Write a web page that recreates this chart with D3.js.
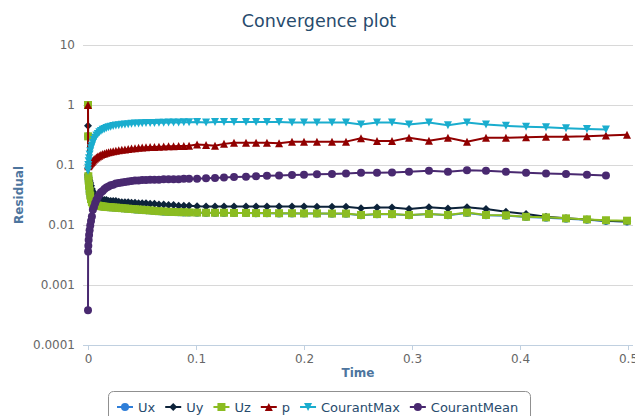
<!DOCTYPE html>
<html>
<head>
<meta charset="utf-8">
<script src="https://d3js.org/d3.v7.min.js"></script>
<style>
body { margin: 0; background: #fff; }
text { font-family: "DejaVu Sans", Verdana, sans-serif; }
</style>
</head>
<body>
<svg id="chart" width="635" height="416"></svg>
<script>

// ---- data ----
var times = [0, 0.0001, 0.0003, 0.0006, 0.001, 0.0015, 0.0021, 0.0028, 0.0036,
  0.0045, 0.0055, 0.0066, 0.0078, 0.0091, 0.0105, 0.012, 0.0136, 0.0153, 0.0171, 0.019, 0.021,
  0.0233, 0.0258, 0.0285, 0.0313, 0.0342, 0.0372, 0.0403, 0.0435, 0.0468, 0.0502, 0.0537,
  0.0575, 0.0615, 0.0657, 0.0701, 0.0746, 0.0792, 0.0839, 0.0887, 0.0936,
  0.101, 0.1093, 0.1176, 0.1259, 0.1352, 0.1463, 0.1556, 0.1657, 0.1769, 0.1889, 0.2, 0.212,
  0.2259, 0.2389, 0.2528, 0.2676, 0.2815, 0.2972, 0.3157, 0.3333, 0.3509, 0.3685, 0.387,
  0.4056, 0.4241, 0.4426, 0.462, 0.4796, 0.4991];

var Ux = [1.0, 0.3, 0.064, 0.054, 0.044, 0.036, 0.031, 0.027, 0.024,
  0.0224, 0.0219, 0.0214, 0.0212, 0.0209, 0.0207, 0.0205, 0.0203, 0.0201, 0.0199, 0.0198, 0.0197,
  0.0195, 0.0194, 0.0192, 0.019, 0.0188, 0.0186, 0.0184, 0.0182, 0.018, 0.0178, 0.0176,
  0.0174, 0.0171, 0.0169, 0.0167, 0.0165, 0.0164, 0.0163, 0.0162, 0.0161,
  0.016, 0.0159, 0.0159, 0.0159, 0.0158, 0.0158, 0.0157, 0.0157, 0.0156, 0.0156, 0.0155, 0.0155,
  0.0154, 0.0154, 0.0146, 0.0151, 0.0151, 0.0146, 0.0152, 0.0146, 0.0158, 0.0146, 0.0143,
  0.0136, 0.0132, 0.0127, 0.0122, 0.0117, 0.0114];

var Uy = [0.45, 0.07, 0.066, 0.062, 0.058, 0.054, 0.05, 0.045, 0.04,
  0.036, 0.032, 0.029, 0.028, 0.027, 0.027, 0.026, 0.026, 0.026, 0.026, 0.025, 0.025,
  0.025, 0.025, 0.0245, 0.024, 0.024, 0.024, 0.0235, 0.0235, 0.023, 0.023, 0.023,
  0.0225, 0.0225, 0.022, 0.022, 0.0215, 0.0215, 0.021, 0.021, 0.021,
  0.0205, 0.0203, 0.0203, 0.0203, 0.0204, 0.0204, 0.0203, 0.0204, 0.0204, 0.0203, 0.0203, 0.0202,
  0.0202, 0.0201, 0.019, 0.0195, 0.0195, 0.0185, 0.0197, 0.0188, 0.0197, 0.0185, 0.0166,
  0.0153, 0.0137, 0.0129, 0.0124, 0.0118, 0.0114];

var Uz = [1.0, 0.3, 0.065, 0.055, 0.045, 0.037, 0.031, 0.027, 0.024,
  0.0225, 0.022, 0.0215, 0.0213, 0.021, 0.0208, 0.0206, 0.0204, 0.0202, 0.02, 0.0199, 0.0198,
  0.0196, 0.0195, 0.0193, 0.0191, 0.0189, 0.0187, 0.0185, 0.0183, 0.0181, 0.0179, 0.0177,
  0.0175, 0.0172, 0.017, 0.0168, 0.0166, 0.0165, 0.0164, 0.0163, 0.0162,
  0.0161, 0.016, 0.016, 0.016, 0.0159, 0.0159, 0.0158, 0.0158, 0.0157, 0.0157, 0.0156, 0.0156,
  0.0155, 0.0155, 0.0147, 0.0152, 0.0152, 0.0147, 0.0153, 0.0147, 0.0161, 0.0147, 0.0145,
  0.0137, 0.0134, 0.0129, 0.0124, 0.012, 0.0118];

var p = [1.0, 0.1, 0.095, 0.097, 0.1, 0.103, 0.106, 0.109, 0.112,
  0.118, 0.123, 0.128, 0.133, 0.138, 0.143, 0.148, 0.152, 0.156, 0.16, 0.163, 0.166,
  0.17, 0.173, 0.176, 0.179, 0.182, 0.185, 0.188, 0.19, 0.193, 0.195, 0.197,
  0.2, 0.2, 0.202, 0.203, 0.205, 0.205, 0.207, 0.208, 0.21,
  0.22, 0.215, 0.21, 0.225, 0.235, 0.235, 0.235, 0.235, 0.23, 0.245, 0.245, 0.245,
  0.245, 0.245, 0.28, 0.25, 0.25, 0.285, 0.254, 0.285, 0.245, 0.285, 0.285,
  0.29, 0.296, 0.296, 0.3, 0.31, 0.32];

var CourantMax = [0.08, 0.09, 0.1, 0.115, 0.13, 0.15, 0.17, 0.19, 0.21,
  0.235, 0.26, 0.285, 0.31, 0.33, 0.35, 0.37, 0.385, 0.4, 0.415, 0.425, 0.435,
  0.445, 0.455, 0.46, 0.47, 0.475, 0.48, 0.485, 0.49, 0.49, 0.495, 0.5,
  0.5, 0.5, 0.505, 0.505, 0.51, 0.51, 0.51, 0.515, 0.515,
  0.52, 0.51, 0.52, 0.52, 0.52, 0.52, 0.52, 0.52, 0.52, 0.51, 0.51, 0.51,
  0.51, 0.51, 0.475, 0.51, 0.51, 0.475, 0.51, 0.46, 0.51, 0.475, 0.45,
  0.435, 0.425, 0.41, 0.4, 0.39];

var CourantMean = [0.00038, 0.0036, 0.0045, 0.0056, 0.0068, 0.0082, 0.0098, 0.0117, 0.0138,
  0.018, 0.02, 0.023, 0.026, 0.029, 0.032, 0.035, 0.037, 0.04, 0.042, 0.044, 0.046,
  0.047, 0.049, 0.05, 0.051, 0.052, 0.053, 0.054, 0.055, 0.055, 0.056, 0.056,
  0.057, 0.057, 0.057, 0.058, 0.058, 0.058, 0.058, 0.059, 0.059,
  0.059, 0.06, 0.061, 0.062, 0.063, 0.064, 0.065, 0.066, 0.067, 0.068, 0.069, 0.07,
  0.071, 0.072, 0.074, 0.074, 0.075, 0.077, 0.08, 0.077, 0.082, 0.08, 0.077,
  0.074, 0.072, 0.071, 0.069, 0.067];

var seriesNames = ["Ux", "Uy", "Uz", "p", "CourantMax", "CourantMean"];
var seriesValues = [Ux, Uy, Uz, p, CourantMax, CourantMean];
var colors = ["#2f7ed8", "#0d233a", "#8bbc21", "#910000", "#1aadce", "#492970"];
var symbols = ["circle", "diamond", "square", "triangle", "triangle-down", "circle"];

var xTicks = [0, 0.1, 0.2, 0.3, 0.4, 0.5];
var xTickLabels = ["0", "0.1", "0.2", "0.3", "0.4", "0.5"];
var yTicks = [0.0001, 0.001, 0.01, 0.1, 1, 10];
var yTickLabels = ["0.0001", "0.001", "0.01", "0.1", "1", "10"];

// ---- layout ----
var plotLeft = 83, plotRight = 633, plotTop = 45, plotBottom = 345;

var svg = d3.select("#chart");

var x = d3.scaleLinear()
  .domain([0, 0.5])
  .range([88, 628]);

var y = d3.scaleLog()
  .domain([0.0001, 10])
  .range([plotBottom, plotTop]);

// title
svg.append("text")
  .attr("x", 319)
  .attr("y", 27)
  .attr("text-anchor", "middle")
  .attr("fill", "#274b6d")
  .attr("font-size", "17.5px")
  .text("Convergence plot");

// horizontal grid lines
var grid = svg.append("g")
  .attr("transform", "translate(" + plotLeft + ",0)")
  .call(d3.axisLeft(y).tickValues(yTicks).tickSize(-(plotRight - plotLeft)).tickFormat(""));
grid.select(".domain").remove();
grid.selectAll("line").attr("stroke", "#d8d8d8").attr("stroke-width", 1);

// y axis labels
var yAxis = svg.append("g")
  .attr("transform", "translate(" + plotLeft + ",0)")
  .call(d3.axisLeft(y).tickValues(yTicks).tickSize(0).tickPadding(8)
    .tickFormat(function(d, i) { return yTickLabels[i]; }));
yAxis.select(".domain").remove();
yAxis.selectAll("text")
  .attr("fill", "#666")
  .attr("font-size", "12px")
  .attr("font-family", "DejaVu Sans");

// x axis
var xAxis = svg.append("g")
  .attr("transform", "translate(0," + plotBottom + ")")
  .call(d3.axisBottom(x).tickValues(xTicks).tickSize(5).tickPadding(4)
    .tickFormat(function(d, i) { return xTickLabels[i]; }));
xAxis.select(".domain").remove();
xAxis.selectAll("line").attr("stroke", "#c0d0e0");
xAxis.selectAll("text")
  .attr("fill", "#666")
  .attr("font-size", "12px")
  .attr("font-family", "DejaVu Sans");
xAxis.append("line")
  .attr("x1", plotLeft).attr("x2", plotRight)
  .attr("y1", 0.5).attr("y2", 0.5)
  .attr("stroke", "#c0d0e0");

// axis titles
svg.append("text")
  .attr("x", (plotLeft + plotRight) / 2)
  .attr("y", 377)
  .attr("text-anchor", "middle")
  .attr("fill", "#4d759e")
  .attr("font-size", "12px")
  .attr("font-weight", "bold")
  .text("Time");

svg.append("text")
  .attr("transform", "translate(23," + (plotTop + plotBottom) / 2 + ") rotate(-90)")
  .attr("text-anchor", "middle")
  .attr("fill", "#4d759e")
  .attr("font-size", "12px")
  .attr("font-weight", "bold")
  .text("Residual");

// marker shapes
function markerPath(type, r) {
  if (type == "circle") return d3.symbol().type(d3.symbolCircle).size(Math.PI * r * r)();
  if (type == "square") return "M" + (-r) + "," + (-r) + "h" + 2 * r + "v" + 2 * r + "h" + (-2 * r) + "Z";
  if (type == "diamond") return "M0," + (-r) + "L" + r + ",0L0," + r + "L" + (-r) + ",0Z";
  if (type == "triangle") return "M0," + (-r) + "L" + r + "," + r + "L" + (-r) + "," + r + "Z";
  return "M" + (-r) + "," + (-r) + "L" + r + "," + (-r) + "L0," + r + "Z";
}

// series
seriesValues.forEach(function(vals, s) {
  var pts = vals.map(function(v, i) { return { t: times[i], v: v }; });
  var g = svg.append("g");
  g.append("path")
    .datum(pts)
    .attr("fill", "none")
    .attr("stroke", colors[s])
    .attr("stroke-width", 2)
    .attr("stroke-linejoin", "round")
    .attr("d", d3.line()
      .x(function(d) { return x(d.t); })
      .y(function(d) { return y(d.v); }));
  g.selectAll("path.marker")
    .data(pts)
    .enter().append("path")
    .attr("class", "marker")
    .attr("transform", function(d) { return "translate(" + x(d.t) + "," + y(d.v) + ")"; })
    .attr("d", markerPath(symbols[s], 4))
    .attr("fill", colors[s]);
});

// legend
var legend = svg.append("g");
legend.append("rect")
  .attr("x", 108.5).attr("y", 391.5)
  .attr("width", 422).attr("height", 40)
  .attr("rx", 5)
  .attr("fill", "#fff")
  .attr("stroke", "#909090");

var lx = 117;
seriesNames.forEach(function(name, s) {
  var item = legend.append("g").attr("transform", "translate(" + lx + ",407)");
  item.append("line")
    .attr("x1", 0).attr("x2", 16)
    .attr("stroke", colors[s]).attr("stroke-width", 2);
  item.append("path")
    .attr("transform", "translate(8,0)")
    .attr("d", markerPath(symbols[s], 4))
    .attr("fill", colors[s]);
  var t = item.append("text")
    .attr("x", 21).attr("y", 4.5)
    .attr("fill", "#274b6d")
    .attr("font-size", "13px")
    .text(name);
  lx += 21 + t.node().getComputedTextLength() + 10;
});

</script>
</body>
</html>
